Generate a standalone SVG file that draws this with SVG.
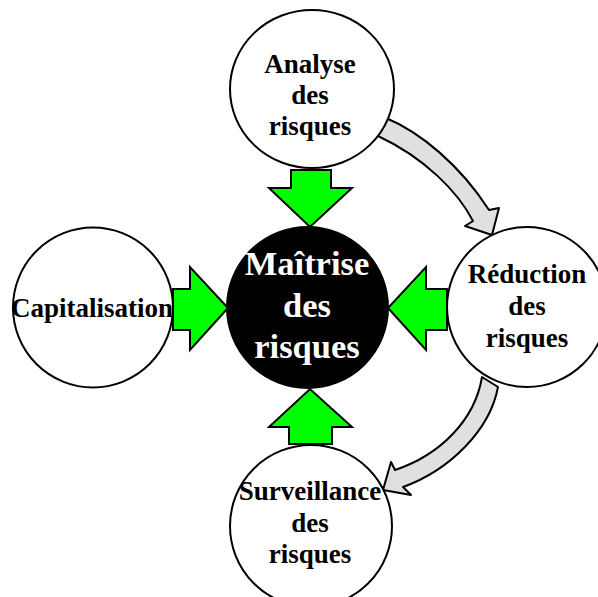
<svg xmlns="http://www.w3.org/2000/svg" width="598" height="597" viewBox="0 0 598 597">
<style>
.bg{fill:#ffffff}
.node{fill:#ffffff;stroke:#000000;stroke-width:2}
.core{fill:#000000;stroke:#000000;stroke-width:2}
.green{fill:#00ff00;stroke:#000000;stroke-width:2;stroke-linejoin:miter}
.gray{fill:#e0e0e0;stroke:#000000;stroke-width:2;stroke-linejoin:round}
.t{font-family:"Liberation Serif","Times New Roman",serif;font-weight:bold;font-size:27px;fill:#000000;text-anchor:middle}
.tc{font-family:"Liberation Serif","Times New Roman",serif;font-weight:bold;font-size:34.5px;fill:#ffffff;text-anchor:middle}
</style>
<rect class="bg" x="0" y="0" width="598" height="597"/>
<g id="connectors">
  <path class="gray" d="M386,118 C420,132 460,165 489,210 L499,208 L492,235 L465,226 L473,221 C458,192 425,158 378,136 Z"/>
  <path class="gray" d="M482,377 C475,420 440,455 395,470 L391,462 L383,490 L411,495 L403,487 C450,470 490,430 498,387 Z"/>
  <polygon class="green" points="291,170 331,170 331,188 352,188 310,227 269,188 291,188"/>
  <polygon class="green" points="173,289 190,289 190,267 228,308 190,350 190,330 173,330"/>
  <polygon class="green" points="447,289 426,289 426,267 388,308 426,350 426,330 447,330"/>
  <polygon class="green" points="289,444 332,444 332,427 352,427 310,389 269,427 289,427"/>
</g>
<g id="analyse">
  <ellipse class="node" cx="312" cy="89" rx="82" ry="79"/>
  <text class="t" x="310" y="73">Analyse</text>
  <text class="t" x="310" y="104">des</text>
  <text class="t" x="310" y="135">risques</text>
</g>
<g id="capitalisation">
  <circle class="node" cx="93" cy="307.5" r="80"/>
  <text class="t" x="92" y="317">Capitalisation</text>
</g>
<g id="reduction">
  <circle class="node" cx="527" cy="307" r="80"/>
  <text class="t" x="527" y="283">Réduction</text>
  <text class="t" x="527" y="315">des</text>
  <text class="t" x="527" y="347">risques</text>
</g>
<g id="surveillance">
  <circle class="node" cx="311" cy="526" r="81"/>
  <text class="t" x="310" y="500">Surveillance</text>
  <text class="t" x="310" y="532">des</text>
  <text class="t" x="310" y="563">risques</text>
</g>
<g id="maitrise">
  <circle class="core" cx="307.5" cy="307.5" r="80.5"/>
  <text class="tc" x="307" y="275">Maîtrise</text>
  <text class="tc" x="307" y="317">des</text>
  <text class="tc" x="307" y="358">risques</text>
</g>
</svg>
